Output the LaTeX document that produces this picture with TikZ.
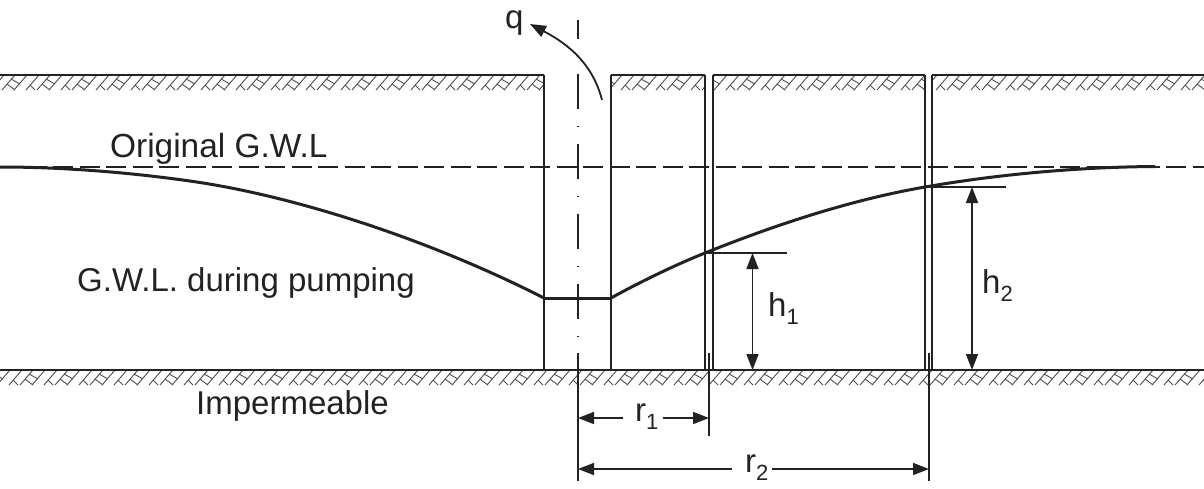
\documentclass[tikz,border=0pt]{standalone}
\usepackage{fontspec}
\setmainfont{Liberation Sans}
\usetikzlibrary{arrows.meta}
\definecolor{ink}{HTML}{222222}
\tikzset{
  wall/.style={line width=1.8pt,draw=ink},
  ground/.style={line width=2pt,draw=ink},
  hatchline/.style={line width=0.9pt,draw=ink!80},
  thin line/.style={line width=1.4pt,draw=ink},
  curve/.style={line width=3pt,draw=ink,line join=round},
  dim/.style={line width=1.7pt,draw=ink,{Triangle[length=16pt,width=12pt]}-{Triangle[length=16pt,width=12pt]}},
  dimto/.style={line width=1.6pt,draw=ink,-{Triangle[length=16pt,width=12pt]}},
  lab/.style={inner sep=0pt,anchor=base west,text=ink,font=\fontsize{33}{33}\selectfont},
  labwide/.style={lab,font=\fontsize{33.4}{33.4}\selectfont},
}
\newcommand{\subnum}[1]{\raisebox{-8pt}{\fontsize{22}{22}\selectfont #1}}
% hatch motif: \hatchband{y of ground}{phase}
\newcommand{\hatchband}[2]{%
  \foreach \k in {-1,...,34}{
    \begin{scope}[shift={({35*\k+#2},#1)}]
      \draw[hatchline] (2,15)--(15,0) (14,15)--(27,0) (26,15)--(39,0);
      \draw[hatchline] (7,9)--(15,15) (11,4)--(20,9) (30,10)--(35,15);
    \end{scope}
  }%
}
\begin{document}
\begin{tikzpicture}[x=1pt,y=-1pt]
\useasboundingbox (0,0) rectangle (1204,488);
\fill[white] (0,0) rectangle (1204,488);
% key points
\coordinate (wL) at (544,298); \coordinate (wR) at (611,298);
\coordinate (wLt) at (544,75); \coordinate (wRt) at (611,75);
\coordinate (wLb) at (544,370); \coordinate (wRb) at (611,370);
\coordinate (p1a) at (705,75); \coordinate (p1b) at (713,75);
\coordinate (p1ab) at (705,370); \coordinate (p1bb) at (713,370);
\coordinate (p2a) at (925,75); \coordinate (p2b) at (932,75);
\coordinate (p2ab) at (925,370); \coordinate (p2bb) at (932,370);
\coordinate (h1top) at (752.5,253); \coordinate (h1bot) at (752.5,370);
\coordinate (h2top) at (972,187); \coordinate (h2bot) at (972,370);
% hatching, top
\begin{scope}
  \clip (0,75) rectangle (544,91) (611,75) rectangle (705,91) (713,75) rectangle (925,91) (932,75) rectangle (1204,91);
  \hatchband{75}{0}
\end{scope}
% hatching, bottom
\begin{scope}
  \clip (0,370) rectangle (1204,386);
  \hatchband{370}{18}
\end{scope}
% ground lines
\draw[ground] (0,75)--(wLt);
\draw[ground] (wRt)--(p1a);
\draw[ground] (p1b)--(p2a);
\draw[ground] (p2b)--(1204,75);
\draw[ground] (0,370)--(1204,370);
% walls
\draw[wall] (wLt)--(wLb); \draw[wall] (wRt)--(wRb);
\draw[wall] (p1a)--(p1ab); \draw[wall] (p1b)--(p1bb);
\draw[wall] (p2a)--(p2ab); \draw[wall] (p2b)--(p2bb);
% axis
\draw[thin line,dash pattern=on 35pt off 17pt on 1.4pt off 16.6pt,dash phase=16pt] (578,20)--(578,340);
\draw[thin line] (578,353)--(578,481);
% ticks
\draw[thin line] (709,353)--(709,436);
\draw[thin line] (929,353)--(929,481);
% water levels
\draw[line width=1.5pt,draw=ink,dash pattern=on 20pt off 6.5pt] (0,167)--(1204,167);
\draw[curve] (0,167) .. controls (60,167) and (130,172) .. (200,182.5) .. controls (300,198) and (430,240) .. (wL);
\draw[curve] (wL)--(wR);
\draw[curve] (wR) .. controls (640,282) and (675,265) .. (705,253) .. controls (775,225) and (850,200) .. (925,187) .. controls (1000,174) and (1080,167) .. (1155,166.5);
% level lines
\coordinate (h1e) at (787,253); \coordinate (h2e) at (1006,187);
\coordinate (c1) at (705,253); \coordinate (c2) at (925,187);
\draw[thin line] (c1)--(h1e);
\draw[thin line] (c2)--(h2e);
% heights
\draw[dim] (h1top)--(h1bot);
\draw[dim] (h2top)--(h2bot);
% radii
\node[lab] (r1) at (635,421.5) {r\subnum{1}};
\node[lab] (r2) at (745,472) {r\subnum{2}};
\coordinate (r1L) at (578,418); \coordinate (r1R) at (709,418);
\coordinate (r1a) at (623,418); \coordinate (r1b) at (663,418);
\coordinate (r2L) at (578,469); \coordinate (r2R) at (929,469);
\coordinate (r2a) at (732,469); \coordinate (r2b) at (772,469);
\draw[dimto] (r1a)--(r1L); \draw[dimto] (r1b)--(r1R);
\draw[dimto] (r2a)--(r2L); \draw[dimto] (r2b)--(r2R);
% discharge
\coordinate (qs) at (602,100); \coordinate (qe) at (530,24);
\draw[dimto,line width=1.8pt] (qs) .. controls (593,65) and (570,45) .. (qe);
% labels
\node[lab] (q) at (505,28) {q};
\node[labwide] (orig) at (110,157) {Original G.W.L};
\node[lab] (pump) at (77,291) {G.W.L. during pumping};
\node[lab] (imp) at (196,414) {Impermeable};
\node[lab] (h1) at (768,316) {h\subnum{1}};
\node[lab] (h2) at (982,293) {h\subnum{2}};
\end{tikzpicture}
\end{document}
